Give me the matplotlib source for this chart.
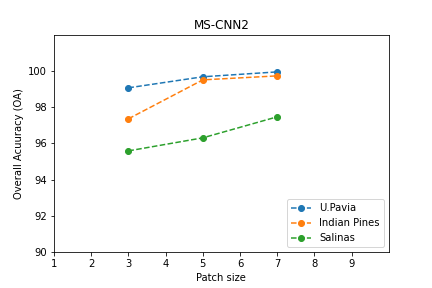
import matplotlib
matplotlib.use("Agg")
import matplotlib.pyplot as plt

patch_sizes = [3, 5, 7]
upavia = [99.06, 99.67, 99.94]
indian_pines = [97.35, 99.50, 99.72]
salinas = [95.58, 96.30, 97.46]

fig, ax = plt.subplots(figsize=(6, 4), dpi=72)
fig.subplots_adjust(left=0.125, right=0.9, bottom=0.125, top=0.88)
ax.plot(patch_sizes, upavia, 'o--', label='U.Pavia')
ax.plot(patch_sizes, indian_pines, 'o--', label='Indian Pines')
ax.plot(patch_sizes, salinas, 'o--', label='Salinas')

ax.set_xlim(1, 10)
ax.set_ylim(90, 102)
ax.set_xticks(range(1, 10))
ax.set_yticks(range(90, 101, 2))
ax.set_xlabel('Patch size')
ax.set_ylabel('Overall Acuuracy (OA)')
ax.set_title('MS-CNN2')
ax.legend(loc='lower right')

fig.savefig('out.png', dpi=72)
